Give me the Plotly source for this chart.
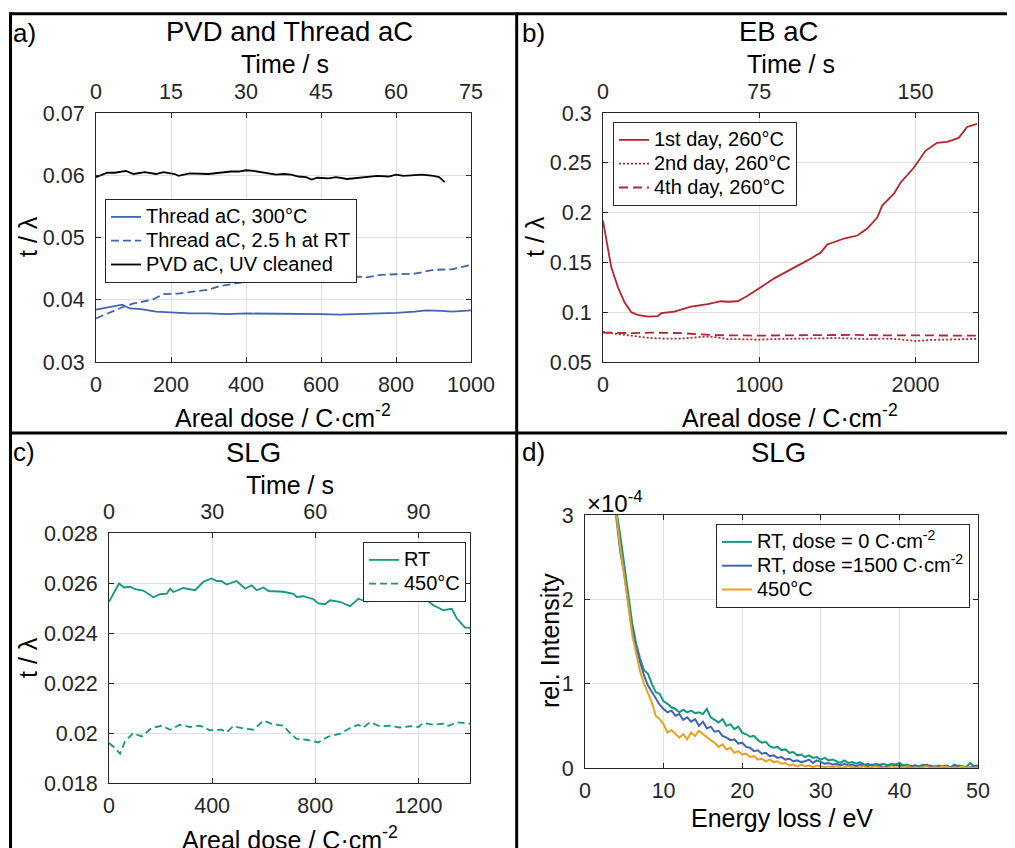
import plotly.graph_objects as go

# ---- panel a: PVD and Thread aC ----
a_pvd_dose = [0, 30, 50, 80, 100, 130, 160, 180, 210, 220, 250, 280, 300, 330, 360, 380, 400, 420, 450, 480,
              500, 520, 540, 560, 575, 590, 620, 640, 670, 700, 730, 750, 780, 800, 820, 850, 870, 900, 915, 930]
a_pvd = [0.0597, 0.0604, 0.0604, 0.0607, 0.0602, 0.0605, 0.0602, 0.0605, 0.0602, 0.0599,
         0.0603, 0.0603, 0.0602, 0.0604, 0.0606, 0.0606, 0.0608, 0.0607, 0.0604, 0.0601,
         0.0602, 0.0601, 0.0598, 0.0597, 0.0593, 0.0596, 0.0595, 0.0597, 0.0594, 0.0596,
         0.0597, 0.0599, 0.0598, 0.0601, 0.0599, 0.0600, 0.0601, 0.0599, 0.0597, 0.0589]
a_300_dose = [0, 70, 90, 120, 160, 200, 250, 300, 350, 400, 450, 500, 550, 600, 650, 700, 750, 800,
              850, 880, 920, 950, 1000]
a_300 = [0.0384, 0.0392, 0.0386, 0.0385, 0.0381, 0.0380, 0.0378, 0.0378, 0.0377, 0.0378, 0.0378, 0.0377,
         0.0378, 0.0377, 0.0376, 0.0377, 0.0377, 0.0379, 0.0381, 0.0383, 0.0382, 0.0381, 0.0383]
a_rt_dose = [0, 70, 100, 150, 180, 220, 300, 330, 400, 450, 500, 560, 600, 650, 700, 720, 760, 800,
             850, 900, 950, 1000]
a_rt = [0.0370, 0.0388, 0.0394, 0.0400, 0.0409, 0.0410, 0.0416, 0.0422, 0.0429, 0.0431, 0.0432,
        0.0433, 0.0431, 0.0435, 0.0437, 0.0436, 0.0440, 0.0441, 0.0442, 0.0448, 0.0449, 0.0456]

# ---- panel b: EB aC ----
b_d1_dose = [0, 21, 53, 96, 138, 181, 223, 287, 350, 372, 457, 564, 670, 755, 798, 862, 926, 1000, 1096,
             1202, 1309, 1394, 1436, 1543, 1628, 1691, 1755, 1787, 1862, 1904, 1989, 2064, 2138, 2202,
             2277, 2330, 2394]
b_d1 = [0.192, 0.172, 0.145, 0.125, 0.110, 0.100, 0.0972, 0.0956, 0.096, 0.099, 0.1005, 0.1055, 0.108,
        0.111, 0.1105, 0.111, 0.1165, 0.124, 0.134, 0.143, 0.152, 0.160, 0.168, 0.174, 0.177, 0.184,
        0.195, 0.207, 0.219, 0.230, 0.245, 0.262, 0.270, 0.271, 0.275, 0.286, 0.289]
b_d2_dose = [0, 100, 200, 300, 400, 500, 580, 650, 720, 800, 900, 1000, 1100, 1200, 1300, 1400, 1500,
             1600, 1700, 1800, 1900, 2000, 2100, 2200, 2300, 2400]
b_d2 = [0.080, 0.078, 0.0755, 0.074, 0.0735, 0.0735, 0.0745, 0.0755, 0.075, 0.073, 0.0728, 0.0725, 0.073,
        0.0735, 0.0733, 0.0738, 0.074, 0.0735, 0.073, 0.0735, 0.0728, 0.071, 0.0722, 0.0725, 0.073, 0.0732]
b_d4_dose = [0, 100, 200, 300, 400, 500, 600, 700, 800, 900, 1000, 1200, 1400, 1500, 1600, 1800, 2000,
             2200, 2400]
b_d4 = [0.0795, 0.0790, 0.0790, 0.0795, 0.0795, 0.0790, 0.0780, 0.0770, 0.0768, 0.0765, 0.0765, 0.0768,
        0.0770, 0.0775, 0.0772, 0.0768, 0.0765, 0.0765, 0.0765]

# ---- panel c: SLG thickness ----
c_rt_dose = [0, 39, 58, 81, 101, 133, 172, 198, 224, 237, 250, 288, 334, 366, 398, 418, 437, 456, 495,
             528, 553, 573, 599, 618, 676, 715, 728, 754, 793, 812, 838, 857, 896, 935, 967, 1000, 1019,
             1051, 1090, 1122, 1142, 1180, 1213, 1258, 1297, 1329, 1349, 1381, 1400]
c_rt = [0.02525, 0.02598, 0.02582, 0.02585, 0.02575, 0.0257, 0.02543, 0.02555, 0.02557, 0.02577,
        0.02564, 0.0258, 0.02571, 0.02605, 0.02618, 0.02608, 0.02607, 0.02594, 0.02608, 0.02577,
        0.02591, 0.02571, 0.02582, 0.02568, 0.02565, 0.02557, 0.02544, 0.02547, 0.02535, 0.02518,
        0.02515, 0.02531, 0.02525, 0.02507, 0.02537, 0.02525, 0.02559, 0.02556, 0.02545, 0.02537,
        0.02571, 0.02537, 0.02547, 0.02511, 0.02491, 0.02497, 0.02458, 0.02422, 0.02421]
c_450_dose = [0, 23, 43, 62, 94, 127, 165, 204, 237, 275, 314, 353, 392, 437, 456, 482, 521, 560, 599,
              637, 676, 702, 728, 767, 812, 851, 896, 935, 967, 986, 1012, 1051, 1090, 1128, 1167, 1200,
              1219, 1258, 1297, 1316, 1349, 1400]
c_450 = [0.0196, 0.0194, 0.01917, 0.01966, 0.0200, 0.01986, 0.0202, 0.02029, 0.02013, 0.02033, 0.02024,
         0.02029, 0.02011, 0.02013, 0.02003, 0.02027, 0.02018, 0.02013, 0.02049, 0.02035, 0.02029, 0.0200,
         0.01976, 0.01973, 0.01962, 0.01986, 0.01997, 0.0202, 0.02033, 0.02022, 0.02043, 0.02027, 0.02029,
         0.02022, 0.02027, 0.02024, 0.0204, 0.02033, 0.02037, 0.02029, 0.02043, 0.02037]

# ---- panel d: SLG spectra (rel. intensity in units of 1e-4) ----
energy = [3.5, 4.0, 4.5, 5.0, 5.5, 6.0, 6.5, 7.0, 7.5, 8.0, 8.5, 9.0, 9.5, 10.0, 10.5, 11.0, 11.5, 12.0,
          12.5, 13.0, 13.5, 14.0, 14.5, 15.0, 15.5, 16.0, 16.5, 17.0, 17.5, 18.0, 18.5, 19.0, 19.5, 20.0,
          20.5, 21.0, 21.5, 22.0, 22.5, 23.0, 23.5, 24.0, 24.5, 25.0, 25.5, 26.0, 26.5, 27.0, 27.5, 28.0,
          28.5, 29.0, 29.5, 30.0, 30.5, 31.0, 31.5, 32.0, 32.5, 33.0, 33.5, 34.0, 34.5, 35.0, 35.5, 36.0,
          36.5, 37.0, 37.5, 38.0, 38.5, 39.0, 39.5, 40.0, 40.5, 41.0, 41.5, 42.0, 42.5, 43.0, 43.5, 44.0,
          44.5, 45.0, 45.5, 46.0, 46.5, 47.0, 47.5, 48.0, 48.5, 49.0, 49.5, 50.0]
d_rt0 = [3.6, 3.05, 2.75, 2.4, 2.05, 1.72, 1.48, 1.3, 1.16, 1.12, 1.0, 0.9, 0.88, 0.79, 0.76, 0.72, 0.70,
         0.66, 0.69, 0.66, 0.68, 0.65, 0.66, 0.64, 0.70, 0.60, 0.57, 0.54, 0.58, 0.50, 0.52, 0.46, 0.49,
         0.42, 0.40, 0.37, 0.38, 0.33, 0.30, 0.31, 0.26, 0.24, 0.25, 0.21, 0.22, 0.18, 0.19, 0.15, 0.16,
         0.13, 0.15, 0.12, 0.13, 0.10, 0.12, 0.09, 0.10, 0.08, 0.06, 0.09, 0.06, 0.07, 0.05, 0.07, 0.04,
         0.05, 0.03, 0.05, 0.04, 0.05, 0.03, 0.05, 0.04, 0.06, 0.03, 0.04, 0.02, 0.03, 0.02, 0.04, 0.02,
         0.03, 0.01, 0.03, 0.02, 0.03, 0.01, 0.02, 0.03, 0.02, 0.01, 0.06, 0.02, 0.03]
d_rt1500 = [3.5, 2.95, 2.55, 2.3, 1.95, 1.62, 1.42, 1.25, 1.1, 0.98, 0.90, 0.82, 0.75, 0.70, 0.66, 0.68,
            0.62, 0.64, 0.57, 0.60, 0.55, 0.58, 0.50, 0.55, 0.47, 0.49, 0.43, 0.44, 0.38, 0.36, 0.33, 0.34,
            0.29, 0.30, 0.25, 0.24, 0.20, 0.21, 0.17, 0.18, 0.14, 0.15, 0.12, 0.13, 0.10, 0.11, 0.08, 0.09,
            0.07, 0.08, 0.10, 0.06, 0.09, 0.07, 0.05, 0.06, 0.04, 0.05, 0.03, 0.05, 0.03, 0.04, 0.02, 0.04,
            0.03, 0.02, 0.04, 0.02, 0.03, 0.01, 0.03, 0.02, 0.04, 0.02, 0.03, 0.01, 0.02, 0.03, 0.01, 0.02,
            0.04, 0.01, 0.02, 0.01, 0.02, 0.00, 0.01, 0.04, 0.01, 0.02, 0.00, 0.01, 0.02, 0.01]
d_450 = [3.7, 3.0, 2.6, 2.3, 1.95, 1.58, 1.35, 1.15, 1.0, 0.88, 0.78, 0.62, 0.58, 0.52, 0.42, 0.45, 0.40,
         0.36, 0.40, 0.34, 0.42, 0.38, 0.44, 0.40, 0.36, 0.33, 0.30, 0.25, 0.28, 0.22, 0.24, 0.18, 0.20,
         0.16, 0.17, 0.13, 0.14, 0.10, 0.11, 0.08, 0.10, 0.07, 0.08, 0.05, 0.06, 0.03, 0.04, 0.02, 0.04,
         0.02, 0.03, 0.01, 0.03, 0.02, 0.01, 0.02, 0.01, 0.02, 0.00, 0.01, 0.02, 0.01, 0.00, 0.01, 0.02,
         0.00, 0.01, 0.02, 0.00, 0.01, 0.00, 0.02, 0.01, 0.00, 0.01, 0.02, 0.00, 0.01, 0.00, 0.01, 0.02,
         0.00, 0.01, 0.00, 0.02, 0.01, 0.00, 0.01, 0.00, 0.02, 0.00, 0.01, 0.00, 0.01]

# time axis: 75 s per 1000 C/cm^2
TIME_PER_DOSE = 0.075

W, H = 1015, 848
PAGE_OFF = 8  # the page body margin shifts the figure by 8 px
FONT = "Liberation Sans, Arial, sans-serif"
INK = "#262626"
BLUE, BLACK, RED = "#4264B4", "#000000", "#B2262C"
TEAL, ORANGE = "#14987E", "#E8A11F"
DOSE_T = "Areal dose / C·cm<sup>-2</sup>"


def px(x):
    return (x - PAGE_OFF) / W


def py(y):
    return 1 - (y - PAGE_OFF) / H


def big(s):
    # legend rows are spaced from the legend font size; draw the text a bit larger
    return '<span style="font-size:20px">' + s + "</span>"


fig = go.Figure()


def line(x, y, name, color, dash, ax, leg, width=1.8):
    fig.add_trace(go.Scatter(x=x, y=y, name=big(name), mode="lines", xaxis=ax[0], yaxis=ax[1], legend=leg,
                             line=dict(color=color, dash=dash, width=width)))


line(a_300_dose, a_300, "Thread aC, 300°C", BLUE, "solid", ("x", "y"), "legend")
line(a_rt_dose, a_rt, "Thread aC, 2.5 h at RT", BLUE, "8px,4px", ("x", "y"), "legend")
line(a_pvd_dose, a_pvd, "PVD aC, UV cleaned", BLACK, "solid", ("x", "y"), "legend")

line(b_d1_dose, b_d1, "1st day, 260°C", RED, "solid", ("x2", "y2"), "legend2")
line(b_d2_dose, b_d2, "2nd day, 260°C", RED, "2px,2px", ("x2", "y2"), "legend2")
line(b_d4_dose, b_d4, "4th day, 260°C", RED, "9px,5px", ("x2", "y2"), "legend2")

line(c_rt_dose, c_rt, "RT", TEAL, "solid", ("x3", "y3"), "legend3")
line(c_450_dose, c_450, "450°C", TEAL, "7px,4px", ("x3", "y3"), "legend3")

line(energy, d_rt0, "RT, dose = 0 C·cm<sup>-2</sup>", TEAL, "solid", ("x4", "y4"), "legend4", 2)
line(energy, d_rt1500, "RT, dose =1500 C·cm<sup>-2</sup>", BLUE, "solid", ("x4", "y4"), "legend4", 2)
line(energy, d_450, "450°C", ORANGE, "solid", ("x4", "y4"), "legend4", 2)

# empty traces so the top time axes get drawn
for ax, ay in (("x5", "y"), ("x6", "y2"), ("x7", "y3")):
    fig.add_trace(go.Scatter(x=[], y=[], xaxis=ax, yaxis=ay, showlegend=False, hoverinfo="skip"))

tickfont = dict(family=FONT, size=21.5, color=INK)


def xax(dom, rng, dtick, anchor):
    return dict(domain=dom, range=rng, dtick=dtick, tick0=0, anchor=anchor, showgrid=True,
                gridcolor="#E0E0E0", gridwidth=1, zeroline=False, showline=True, linecolor=INK,
                linewidth=1, mirror="ticks", ticks="inside", ticklen=5, tickcolor=INK,
                tickfont=tickfont, ticklabelstandoff=3, automargin=False)


def yax(dom, rng, dtick, anchor):
    d = xax(dom, rng, dtick, anchor)
    d["ticklabelstandoff"] = 6
    return d


def topax(over, anchor, rng, dtick):
    return dict(overlaying=over, anchor=anchor, side="top", range=rng, dtick=dtick, tick0=0,
                showgrid=False, zeroline=False, showline=False, ticks="", tickfont=tickfont,
                ticklabelstandoff=9, automargin=False)


dom_ax = [px(96), px(471)]
dom_bx = [px(603), px(978)]
dom_cx = [px(109), px(470)]
dom_dx = [px(585), px(978)]
dom_top = [py(362), py(113)]
dom_cy = [py(783), py(533)]
dom_dy = [py(768), py(515)]


def legend(x, y):
    return dict(x=x, y=y, xanchor="left", yanchor="top", bgcolor="white", bordercolor=INK, borderwidth=1,
                font=dict(family=FONT, size=16, color="#000000"), tracegroupgap=0, itemwidth=30)


ann = []


def text(s, x, y, size, angle=0, xanchor="center"):
    ann.append(dict(text=s, x=px(x), y=py(y), xref="paper", yref="paper", showarrow=False,
                    xanchor=xanchor, yanchor="middle", textangle=angle,
                    font=dict(family=FONT, size=size, color="#000000")))


# panel letters and titles
text("a)", 11, 33, 26, xanchor="left")
text("b)", 520, 33, 26, xanchor="left")
text("c)", 11, 452, 26, xanchor="left")
text("d)", 520, 452, 26, xanchor="left")
text("PVD and Thread aC", 289, 32, 27.5)
text("EB aC", 778, 32, 27.5)
text("SLG", 253, 452, 27.5)
text("SLG", 778, 452, 27.5)
# axis titles
for xc, yc in ((285, 64), (791, 64), (290, 485)):
    text("Time / s", xc, yc, 25)
for xc, yc in ((283, 416), (790, 416), (290, 838)):
    text(DOSE_T, xc, yc, 25)
text("t / λ", 28, 237, 25, angle=-90)
text("t / λ", 535, 237, 25, angle=-90)
text("t / λ", 28, 658, 25, angle=-90)
text("rel. Intensity", 550, 641, 25, angle=-90)
text("Energy loss / eV", 782, 818, 25)
text("×10<sup>-4</sup>", 585, 502, 24, xanchor="left")

# frame lines of the figure
shapes = []
for x0, y0, x1, y1 in ((9, 13.8, 1015, 13.8), (10.5, 12.5, 10.5, 848), (516.7, 12.5, 516.7, 848),
                       (9, 433, 1015, 433)):
    shapes.append(dict(type="line", xref="paper", yref="paper", x0=px(x0), y0=py(y0), x1=px(x1),
                       y1=py(y1), line=dict(color="#000000", width=3)))

fig.update_layout(
    width=W, height=H, margin=dict(l=0, r=0, t=0, b=0, autoexpand=False),
    paper_bgcolor="white", plot_bgcolor="white", showlegend=True,
    xaxis=xax(dom_ax, [0, 1000], 200, "y"),
    yaxis=yax(dom_top, [0.03, 0.07], 0.01, "x"),
    xaxis2=xax(dom_bx, [0, 2400], 1000, "y2"),
    yaxis2=yax(dom_top, [0.05, 0.3], 0.05, "x2"),
    xaxis3=xax(dom_cx, [0, 1400], 400, "y3"),
    yaxis3=yax(dom_cy, [0.018, 0.028], 0.002, "x3"),
    xaxis4=xax(dom_dx, [0, 50], 10, "y4"),
    yaxis4=yax(dom_dy, [0, 3], 1, "x4"),
    xaxis5=topax("x", "y", [0, 1000 * TIME_PER_DOSE], 15),
    xaxis6=topax("x2", "y2", [0, 2400 * TIME_PER_DOSE], 75),
    xaxis7=topax("x3", "y3", [0, 1400 * TIME_PER_DOSE], 30),
    legend=legend(px(105), py(199)),
    legend2=legend(px(613), py(122)),
    legend3=legend(px(363), py(542)),
    legend4=legend(px(716), py(524)),
    annotations=ann, shapes=shapes,
)

fig.write_html("out.html")
